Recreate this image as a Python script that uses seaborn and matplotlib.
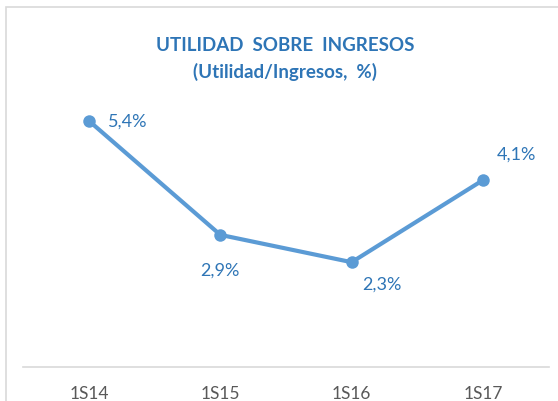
import pandas as pd
import seaborn as sns
import matplotlib.pyplot as plt
from matplotlib.patches import Rectangle

periods = ["1S14", "1S15", "1S16", "1S17"]
margin = [5.4, 2.9, 2.3, 4.1]
labels = ["5,4%", "2,9%", "2,3%", "4,1%"]

df = pd.DataFrame({"Periodo": periods, "Margen": margin})

sns.set_style("white")
plt.rcParams["font.family"] = ["Lato", "DejaVu Sans"]

line_col = "#5B9BD5"
text_col = "#2E75B6"

fig = plt.figure(figsize=(5.58, 4.02), dpi=100)
ax = fig.add_axes([0.042, 0.0846, 0.941, 0.68])

sns.lineplot(data=df, x="Periodo", y="Margen", sort=False, ax=ax,
             color=line_col, linewidth=3, marker="o", markersize=9,
             markeredgewidth=0)

# label offsets in pixels, as placed in the original
offsets = [(19, 0, "left", "center"),
           (0, -35, "center", "center"),
           (30, -21, "center", "center"),
           (34, 27, "center", "center")]
for i, (lab, off) in enumerate(zip(labels, offsets)):
    ax.annotate(lab, (i, margin[i]), xytext=(off[0], off[1]),
                textcoords="offset pixels", ha=off[2], va=off[3],
                color=text_col, fontsize=13)

ax.set_xlim(-0.5, 3.5)
ax.set_ylim(0, 6)
ax.set_yticks([])
ax.set_xlabel("")
ax.set_ylabel("")
for s in ["top", "right", "left"]:
    ax.spines[s].set_visible(False)
ax.spines["bottom"].set_color("#D9D9D9")
ax.spines["bottom"].set_linewidth(1.2)
ax.tick_params(axis="x", length=0, pad=13, labelsize=12.5, labelcolor="#595959")

fig.text(0.511, 0.888, "UTILIDAD  SOBRE  INGRESOS", ha="center", va="center",
         color=text_col, fontsize=13.5, fontweight="bold")
fig.text(0.511, 0.822, "(Utilidad/Ingresos,  %)", ha="center", va="center",
         color=text_col, fontsize=13.5, fontweight="bold")

fig.patches.append(Rectangle((6 / 558, -0.1), 1.2, 1.1 - 8 / 402,
                             transform=fig.transFigure, fill=False,
                             edgecolor="#D9D9D9", linewidth=1.2))

fig.savefig("out.png", dpi=100)
